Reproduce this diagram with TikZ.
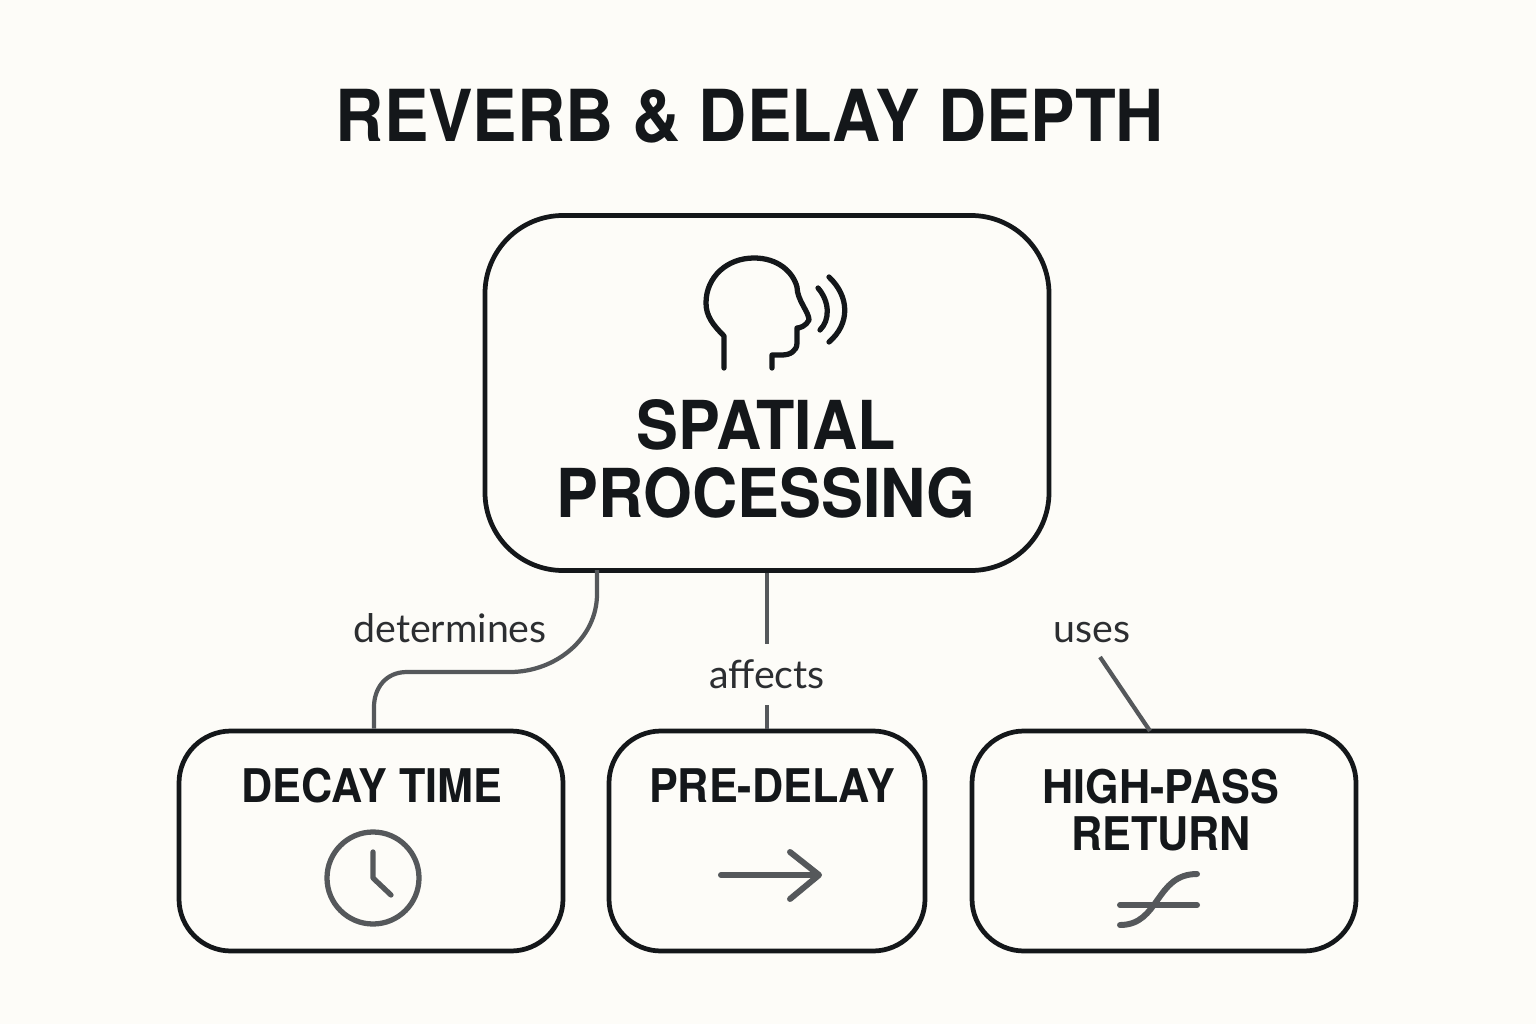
\documentclass[tikz,border=0pt]{standalone}
\usepackage{fontspec}
\setmainfont{Lato}
\newfontfamily\boldface[FakeStretch=0.93]{TeX Gyre Heros}
\usetikzlibrary{positioning}
\definecolor{paper}{HTML}{FDFCF8}
\definecolor{ink}{HTML}{14171A}
\definecolor{wire}{HTML}{55585B}
\tikzset{
    bigbox/.style={draw=ink, line width=1.35pt, rounded corners=0.78cm, minimum width=5.64cm, minimum height=3.55cm},
    smallbox/.style={draw=ink, line width=1.35pt, rounded corners=0.52cm, minimum height=2.2cm},
    heading/.style={text=ink, font=\fontsize{20.4}{25}\selectfont\boldface\bfseries},
    mainlabel/.style={text=ink, align=center, font=\fontsize{19.2}{19.4}\selectfont\boldface\bfseries},
    boxlabel/.style={text=ink, align=center, font=\fontsize{13.2}{13.6}\selectfont\boldface\bfseries},
    edgelabel/.style={text=ink!90, font=\fontsize{11.2}{12}\selectfont},
    wireline/.style={draw=wire, line width=1.2pt},
    iconline/.style={draw=wire, line width=1.5pt, line cap=round, line join=round},
    headline/.style={draw=ink, line width=1.5pt, line cap=round, line join=round}
}
\begin{document}
\begin{tikzpicture}
    \useasboundingbox[fill=paper](0, 0) rectangle (15.36, 10.24);

    \node[heading](title)at(7.50, 9.08){REVERB \& DELAY DEPTH};

    % boxes
    \node[bigbox](main)at(7.67, 6.31){};
    \node[smallbox, minimum width=3.84cm](decay)at(3.71, 1.83){};
    \node[smallbox, minimum width=3.16cm](predelay)at(7.67, 1.83){};
    \node[smallbox, minimum width=3.84cm](highpass)at(11.64, 1.83){};

    \node[mainlabel](mainlabeltext)at(7.66, 5.65){SPATIAL\\PROCESSING};
    \node[boxlabel](decaylabel)at(3.72, 2.38){DECAY TIME};
    \node[boxlabel](predelaylabel)at(7.72, 2.38){PRE-DELAY};
    \node[boxlabel](highpasslabel)at(11.61, 2.14){HIGH-PASS\\RETURN};

    % connectors
    \coordinate(decayout)at(5.97, 4.54);
    \coordinate(usesend)at(11.00, 3.67);
    \draw[wireline](decayout)--(5.97, 4.30) .. controls (5.97, 3.85) and (5.55, 3.52) .. (5.10, 3.52)
        -- (4.07, 3.52) .. controls (3.85, 3.52) and (3.74, 3.35) .. (3.74, 3.17) -- (decay.north -| 3.74, 0);
    \draw[wireline](main.south)--(predelay.north)
        node[pos=0.65, edgelabel, fill=paper, minimum height=0.61cm, inner ysep=0pt, inner xsep=1pt](affects){affects};
    \draw[wireline](usesend)--(11.50, 2.93);

    \node[edgelabel, anchor=base](determines)at(4.50, 3.82){determines};
    \node[edgelabel, anchor=base](uses)at(10.92, 3.82){uses};

    % speaking head
    \draw[headline](7.24, 6.56)--(7.24, 6.88)
        .. controls (7.13, 6.99) and (7.06, 7.08) .. (7.06, 7.21)
        .. controls (7.06, 7.47) and (7.27, 7.66) .. (7.54, 7.66)
        .. controls (7.78, 7.66) and (7.93, 7.52) .. (7.97, 7.37)
        .. controls (7.97, 7.24) and (8.09, 7.12) .. (8.09, 7.04)
        .. controls (8.06, 6.98) and (8.00, 6.96) .. (7.97, 6.96)
        -- (7.97, 6.81) .. controls (7.97, 6.73) and (7.90, 6.69) .. (7.82, 6.69)
        -- (7.72, 6.69)--(7.72, 6.56);
    \draw[headline](8.18, 7.36) .. controls (8.30, 7.22) and (8.30, 7.04) .. (8.20, 6.94);
    \draw[headline](8.29, 7.47) .. controls (8.50, 7.27) and (8.50, 7.00) .. (8.29, 6.82);

    % clock
    \draw[iconline](3.73, 1.46) circle (0.46);
    \draw[iconline](3.73, 1.72)--(3.73, 1.46)--(3.91, 1.29);

    % arrow
    \draw[iconline, line width=1.7pt](7.21, 1.49)--(8.18, 1.49);
    \draw[iconline, line width=1.7pt](7.90, 1.72)--(8.19, 1.49)--(7.90, 1.25);

    % filter curve
    \draw[iconline, line width=1.7pt](11.20, 1.19)--(11.97, 1.19);
    \draw[iconline, line width=1.7pt](11.20, 0.99) .. controls (11.60, 0.99) and (11.55, 1.50) .. (11.97, 1.50);
\end{tikzpicture}
\end{document}
